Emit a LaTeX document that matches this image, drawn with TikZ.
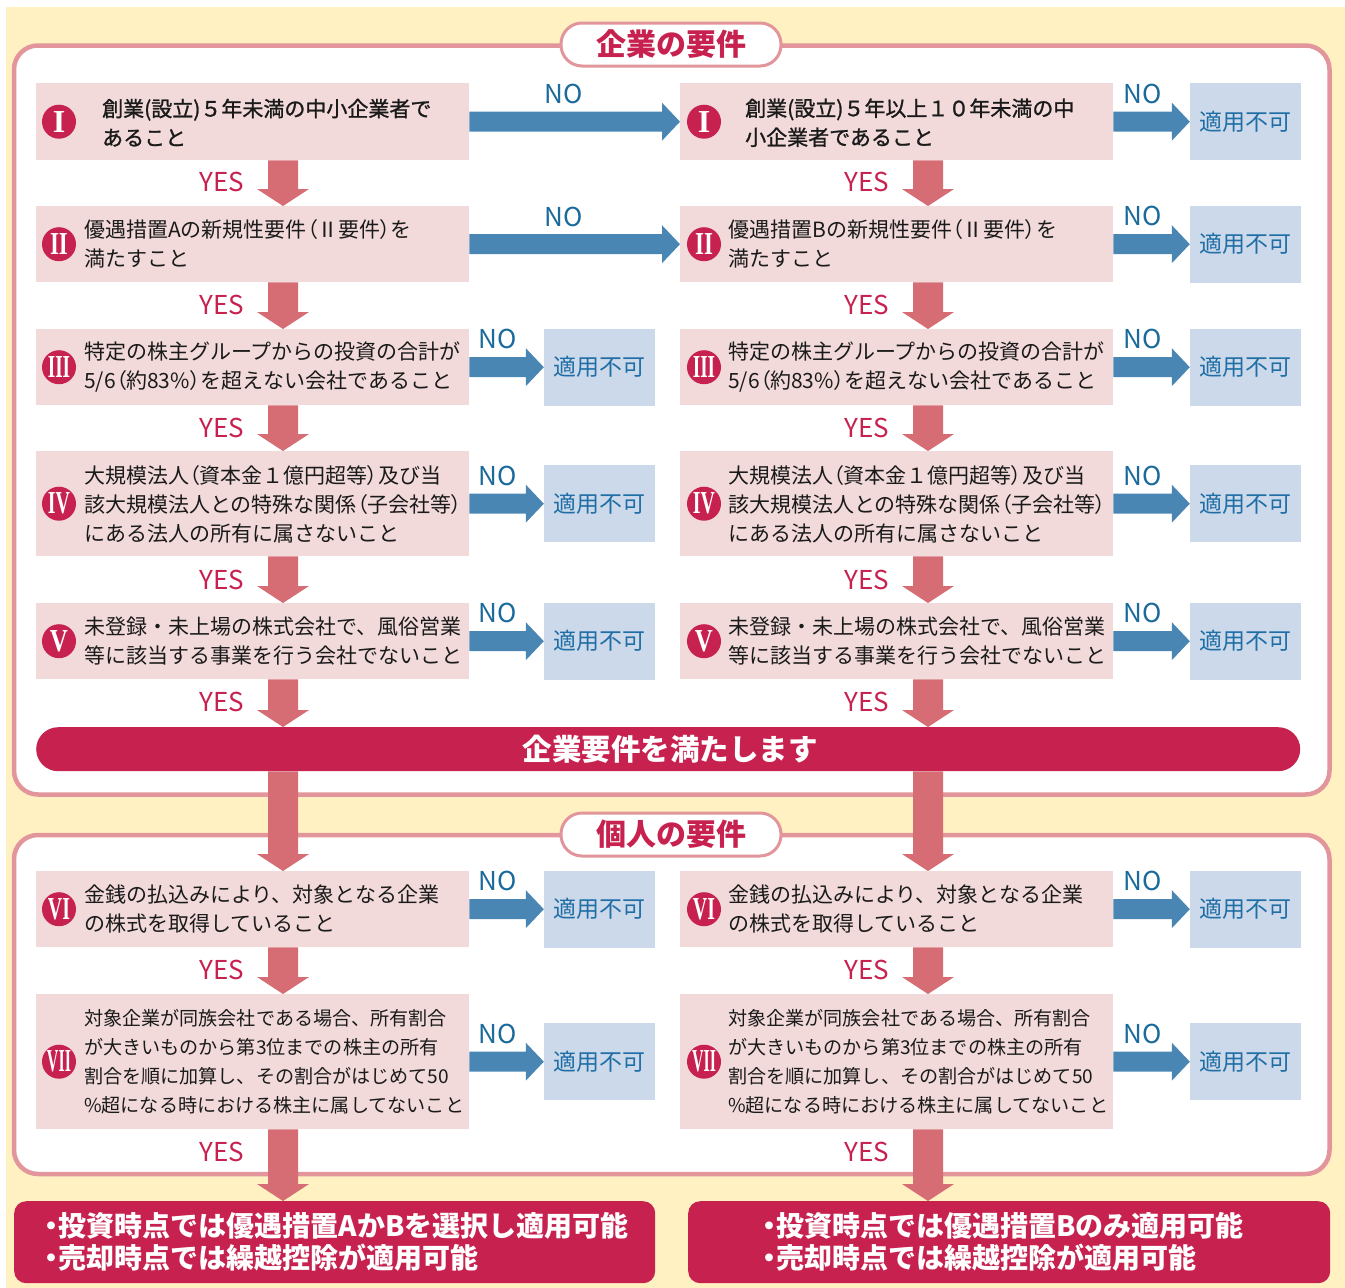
\documentclass[tikz,border=0pt]{standalone}
\usepackage{fontspec}
\usepackage{graphicx}
\usetikzlibrary{calc}
\setmainfont{Noto Sans CJK JP}
\newfontfamily\jpp{Noto Sans CJK JP}[RawFeature=+palt]
\newfontfamily\jpm{Noto Sans CJK JP}[FakeBold=1.2]
\newfontfamily\romanf{Liberation Serif}
\definecolor{bgyellow}{HTML}{FFF1C2}
\definecolor{framepink}{HTML}{E2959B}
\definecolor{boxpink}{HTML}{F2DADB}
\definecolor{nablue}{HTML}{CCD9EA}
\definecolor{natext}{HTML}{1F6EA6}
\definecolor{nocol}{HTML}{1A6A9C}
\definecolor{crim}{HTML}{C7214F}
\definecolor{arrpink}{HTML}{D66C74}
\definecolor{arrblue}{HTML}{4A86B4}
\definecolor{bodyblack}{HTML}{1A1A1A}
\newcommand\LP{{\jpp （}}
\newcommand\RP{{\jpp ）}}
\newcommand\BUL{{\jpp\bfseries ・}}
\newcommand\rn[2]{\scalebox{#1}[1]{#2}}
\newcommand\varr[2]{%
  \path (#1) coordinate (va) (#2) coordinate (vb);
  \fill[arrpink] ($(va)+(-15,0)$) -- ($(vb)+(-15,-17)$) -- ($(vb)+(-26,-17)$) -- (vb)
    -- ($(vb)+(26,-17)$) -- ($(vb)+(15,-17)$) -- ($(va)+(15,0)$) -- cycle;}
\newcommand\harr[2]{%
  \path (#1) coordinate (ha) (#2) coordinate (hb);
  \fill[arrblue] ($(ha)+(0,-10)$) -- ($(hb)+(-18,-10)$) -- ($(hb)+(-18,-19)$) -- (hb)
    -- ($(hb)+(-18,19)$) -- ($(hb)+(-18,10)$) -- ($(ha)+(0,10)$) -- cycle;}
\tikzset{
  box/.style={fill=boxpink, minimum width=433pt, inner sep=0pt, anchor=north west},
  nabox/.style={fill=nablue, minimum width=111pt, minimum height=77pt, inner sep=0pt,
    text=natext, font=\fontsize{23}{23}\selectfont},
  num/.style={circle, fill=crim, minimum size=34pt, inner sep=0pt, text=white,
    font=\romanf\bfseries\fontsize{32}{32}\selectfont},
  body/.style={anchor=west, align=left, inner sep=0pt, text=bodyblack,
    font=\fontsize{21}{29}\selectfont},
  bodys/.style={body, font=\fontsize{19.1}{29}\selectfont},
  yeslab/.style={text=crim, inner sep=0pt, font=\fontsize{26}{26}\selectfont},
  nolab/.style={text=nocol, inner sep=0pt, font=\fontsize{26}{26}\selectfont},
  pill/.style={draw=framepink, line width=3pt, fill=white, rounded corners=21pt,
    minimum width=220pt, minimum height=43pt, inner sep=0pt, text=crim,
    font=\bfseries\fontsize{30}{30}\selectfont},
  finalbox/.style={fill=crim, rounded corners=12pt, minimum height=82pt, inner sep=0pt,
    anchor=north west},
  finaltext/.style={text=white, align=left, inner sep=0pt,
    font=\bfseries\fontsize{28}{32}\selectfont},
}
\begin{document}
\begin{tikzpicture}[x=1pt,y=-1pt]
\useasboundingbox (0,0) rectangle (1345,1288);
\fill[white] (0,0) rectangle (1345,1288);
\fill[bgyellow] (6,7) rectangle (1345,1288);
% frames
\draw[framepink, line width=4.5pt, fill=white, rounded corners=24pt] (14,45.5) rectangle (1329.5,794.5);
\draw[framepink, line width=4.5pt, fill=white, rounded corners=24pt] (14,835) rectangle (1329.5,1174);
\node[pill] (T1) at (671,44.5) {企業の要件};
\node[pill] (T2) at (671,834.5) {個人の要件};
% column coordinates
\coordinate (cL) at (283,0);
\coordinate (cR) at (928,0);
\coordinate (nL) at (599.5,0);
\coordinate (nR) at (1245.5,0);
% left boxes
\node[box, minimum height=77pt] (L1) at (36,83) {};
\node[box, minimum height=76pt] (L2) at (36,206) {};
\node[box, minimum height=76pt] (L3) at (36,329) {};
\node[box, minimum height=105pt] (L4) at (36,451) {};
\node[box, minimum height=76pt] (L5) at (36,603) {};
\node[box, minimum height=76pt] (L6) at (36,871) {};
\node[box, minimum height=135pt] (L7) at (36,994) {};
% right boxes
\node[box, minimum height=77pt] (R1) at (680,83) {};
\node[box, minimum height=76pt] (R2) at (680,206) {};
\node[box, minimum height=76pt] (R3) at (680,329) {};
\node[box, minimum height=105pt] (R4) at (680,451) {};
\node[box, minimum height=76pt] (R5) at (680,603) {};
\node[box, minimum height=76pt] (R6) at (680,871) {};
\node[box, minimum height=135pt] (R7) at (680,994) {};
% numerals
\foreach \s/\c in {L/23, R/24}{
  \node[num] (\s c1) at ($(\s1.west)+(\c,0)$) {I};
  \node[num] (\s c2) at ($(\s2.west)+(\c,0)$) {\rn{0.72}{II}};
  \node[num] (\s c3) at ($(\s3.west)+(\c,0)$) {\rn{0.6}{III}};
  \node[num] (\s c4) at ($(\s4.west)+(\c,0)$) {\rn{0.62}{IV}};
  \node[num] (\s c5) at ($(\s5.west)+(\c,0)$) {\rn{0.78}{V}};
  \node[num] (\s c6) at ($(\s6.west)+(\c,0)$) {\rn{0.62}{VI}};
  \node[num] (\s c7) at ($(\s7.west)+(\c,0)$) {\rn{0.5}{VII}};
}
% texts left
\node[body, font=\jpm\fontsize{21}{29}\selectfont] (tL1) at ($(L1.west)+(66,1)$) {創業(設立)５年未満の中小企業者で\\あること};
\node[body] (tL2) at ($(L2.west)+(48,0)$) {優遇措置Aの新規性要件\LP Ⅱ要件\RP を\\満たすこと};
\node[body] (tL3) at ($(L3.west)+(48,0)$) {特定の株主グループからの投資の合計が\\5/6\LP 約83\%\RP を超えない会社であること};
\node[body] (tL4) at ($(L4.west)+(48,1)$) {大規模法人\LP 資本金１億円超等\RP 及び当\\該大規模法人との特殊な関係\LP 子会社等\RP\\にある法人の所有に属さないこと};
\node[body] (tL5) at ($(L5.west)+(48,0)$) {未登録・未上場の株式会社で、風俗営業\\等に該当する事業を行う会社でないこと};
\node[body] (tL6) at ($(L6.west)+(48,0)$) {金銭の払込みにより、対象となる企業\\の株式を取得していること};
\node[bodys] (tL7) at ($(L7.west)+(48,0)$) {対象企業が同族会社である場合、所有割合\\が大きいものから第3位までの株主の所有\\割合を順に加算し、その割合がはじめて50\\\%超になる時における株主に属してないこと};
% texts right
\node[body, font=\jpm\fontsize{21}{29}\selectfont] (tR1) at ($(R1.west)+(65,1)$) {創業(設立)５年以上１０年未満の中\\小企業者であること};
\node[body] (tR2) at ($(R2.west)+(48,0)$) {優遇措置Bの新規性要件\LP Ⅱ要件\RP を\\満たすこと};
\node[body] (tR3) at ($(R3.west)+(48,0)$) {特定の株主グループからの投資の合計が\\5/6\LP 約83\%\RP を超えない会社であること};
\node[body] (tR4) at ($(R4.west)+(48,1)$) {大規模法人\LP 資本金１億円超等\RP 及び当\\該大規模法人との特殊な関係\LP 子会社等\RP\\にある法人の所有に属さないこと};
\node[body] (tR5) at ($(R5.west)+(48,0)$) {未登録・未上場の株式会社で、風俗営業\\等に該当する事業を行う会社でないこと};
\node[body] (tR6) at ($(R6.west)+(48,0)$) {金銭の払込みにより、対象となる企業\\の株式を取得していること};
\node[bodys] (tR7) at ($(R7.west)+(48,0)$) {対象企業が同族会社である場合、所有割合\\が大きいものから第3位までの株主の所有\\割合を順に加算し、その割合がはじめて50\\\%超になる時における株主に属してないこと};
% NA boxes
\foreach \i in {3,4,5,6,7}{
  \node[nabox] (NL\i) at (L\i.east -| nL) {適用不可};
}
\foreach \i in {1,2,3,4,5,6,7}{
  \node[nabox] (NR\i) at (R\i.east -| nR) {適用不可};
}
% bar
\node[fill=crim, rounded corners=22pt, minimum width=1264pt, minimum height=44pt, inner sep=0pt,
  anchor=north west] (bar) at (36,727) {};
\node[text=white, inner sep=0pt, font=\bfseries\fontsize{29.5}{29.5}\selectfont] (barT) at (670,749) {企業要件を満たします};
% final boxes
\node[finalbox, minimum width=641pt] (FL) at (14,1201) {};
\node[finalbox, minimum width=642pt] (FR) at (688,1201) {};
\node[finaltext] (tFL) at ($(FL.center)+(2,0)$) {\BUL 投資時点では優遇措置AかBを選択し適用可能\\\BUL 売却時点では繰越控除が適用可能};
\node[finaltext] (tFR) at ($(FR.center)+(-6,0)$) {\BUL 投資時点では優遇措置Bのみ適用可能\\\BUL 売却時点では繰越控除が適用可能};
% horizontal NO arrows
\harr{L1.east}{R1.west}
\harr{L2.east}{R2.west}
\foreach \i in {3,4,5,6,7}{ \harr{L\i.east}{NL\i.west} }
\foreach \i in {1,2,3,4,5,6,7}{ \harr{R\i.east}{NR\i.west} }
% vertical YES arrows
\foreach \s/\c in {L/cL, R/cR}{
  \varr{\s1.south -| \c}{\s2.north -| \c}
  \varr{\s2.south -| \c}{\s3.north -| \c}
  \varr{\s3.south -| \c}{\s4.north -| \c}
  \varr{\s4.south -| \c}{\s5.north -| \c}
  \varr{\s5.south -| \c}{bar.north -| \c}
  \varr{bar.south -| \c}{\s6.north -| \c}
  \varr{\s6.south -| \c}{\s7.north -| \c}
}
\varr{L7.south -| cL}{FL.north -| cL}
\varr{R7.south -| cR}{FR.north -| cR}
% YES labels
\foreach \y [count=\k] in {182,305,428,580,702,970,1152}{
  \node[yeslab] (yL\k) at (222,\y) {YES};
  \node[yeslab] (yR\k) at (867,\y) {YES};
}
% NO labels
\node[nolab] (nL1) at (564,94) {NO};
\node[nolab] (nL2) at (564,217) {NO};
\foreach \y [count=\k from 3] in {339,475.5,613,881,1033.5}{
  \node[nolab] (nL\k) at (498,\y) {NO};
}
\foreach \y [count=\k] in {93.5,216,339,475.5,613,881,1033.5}{
  \node[nolab] (nR\k) at (1143,\y) {NO};
}
\end{tikzpicture}
\end{document}
